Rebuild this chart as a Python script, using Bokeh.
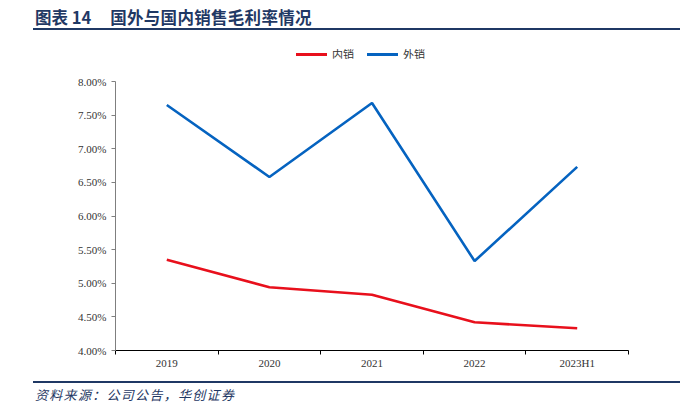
from bokeh.plotting import figure
from bokeh.models import FixedTicker, Range1d, Div, ColumnDataSource
from bokeh.layouts import column
from bokeh.embed import file_html
from bokeh.resources import INLINE

# Data
categories = ["2019", "2020", "2021", "2022", "2023H1"]
domestic = [5.35, 4.94, 4.83, 4.42, 4.33]   # 内销 (%)
foreign = [7.65, 6.58, 7.68, 5.33, 6.73]    # 外销 (%)
y_ticks = [4.0, 4.5, 5.0, 5.5, 6.0, 6.5, 7.0, 7.5, 8.0]
y_tick_labels = ["4.00%", "4.50%", "5.00%", "5.50%", "6.00%", "6.50%", "7.00%", "7.50%", "8.00%"]
series_names = ["内销", "外销"]
title_label = "图表 14"
title_main = "国外与国内销售毛利率情况"
source_text = "资料来源：公司公告，华创证券"

NAVY = "#1F3864"
RED = "#E8101C"
BLUE = "#0563C0"

xs = [i + 0.5 for i in range(len(categories))]
src = ColumnDataSource(dict(x=xs, dom=domestic, fgn=foreign))

p = figure(width=672, height=323, output_backend="svg", toolbar_location=None,
           x_range=Range1d(0, len(categories)), y_range=Range1d(4.0, 8.0),
           min_border_left=107, min_border_right=52, min_border_top=23, min_border_bottom=31)
p.margin = 0
p.outline_line_color = None
p.grid.grid_line_color = None
p.background_fill_color = "white"

p.line("x", "dom", source=src, line_color=RED, line_width=2.6)
p.line("x", "fgn", source=src, line_color=BLUE, line_width=2.6)

# x axis
p.xaxis.ticker = FixedTicker(ticks=xs, minor_ticks=list(range(len(categories) + 1)))
p.xaxis.major_label_overrides = {x: c for x, c in zip(xs, categories)}
p.xaxis.major_tick_line_color = None
p.xaxis.major_tick_out = 4
p.xaxis.major_tick_in = 0
p.xaxis.minor_tick_line_color = "black"
p.xaxis.minor_tick_out = 4
p.xaxis.minor_tick_in = 0
p.xaxis.axis_line_color = "black"
p.xaxis.axis_line_width = 1
p.xaxis.major_label_standoff = 2
p.xaxis.major_label_text_font = "Liberation Serif"
p.xaxis.major_label_text_font_size = "11px"
p.xaxis.major_label_text_color = "#333333"

# y axis
p.yaxis.ticker = FixedTicker(ticks=y_ticks)
p.yaxis.major_label_overrides = {t: l for t, l in zip(y_ticks, y_tick_labels)}
p.yaxis.axis_line_color = "#7F7F7F"
p.yaxis.major_tick_line_color = "#7F7F7F"
p.yaxis.major_tick_out = 4
p.yaxis.major_tick_in = 0
p.yaxis.minor_tick_line_color = None
p.yaxis.major_label_standoff = 5
p.yaxis.major_label_text_font = "Liberation Serif"
p.yaxis.major_label_text_font_size = "11px"
p.yaxis.major_label_text_color = "#333333"

legend_html = (
    '<div style="margin-top:15px;padding-left:288px;height:14px;line-height:14px;white-space:nowrap;'
    'font-family:\'Noto Sans CJK SC\';font-size:11px;color:#333333;">'
    f'<span style="display:inline-block;width:31px;height:3px;background:{RED};vertical-align:middle;"></span>'
    f'<span style="display:inline-block;margin-left:5px;vertical-align:middle;">{series_names[0]}</span>'
    f'<span style="display:inline-block;width:31px;height:3px;background:{BLUE};vertical-align:middle;margin-left:13px;"></span>'
    f'<span style="display:inline-block;margin-left:5px;vertical-align:middle;">{series_names[1]}</span>'
    '</div>')

title_div = Div(width=672, height=50, margin=0, text=(
    f'<div style="margin-left:25px;width:647px;height:22px;border-bottom:2px solid {NAVY};'
    f'font-family:\'Noto Sans CJK SC\';font-weight:bold;font-size:16.5px;line-height:19px;'
    f'color:{NAVY};padding-left:2px;box-sizing:border-box;white-space:nowrap;">'
    f'<span>{title_label}</span><span style="margin-left:19px;letter-spacing:0.3px;">{title_main}</span></div>'
    + legend_html))

source_div = Div(width=672, height=21, margin=0, text=(
    f'<div style="margin-left:25px;width:647px;border-top:2px solid {NAVY};padding-top:4px;'
    f'font-family:\'Noto Sans CJK SC\';font-style:italic;font-size:13px;line-height:15px;'
    f'letter-spacing:1.3px;color:{NAVY};padding-left:2px;box-sizing:border-box;white-space:nowrap;">{source_text}</div>'))

layout = column(title_div, p, source_div, spacing=0, margin=(8, 8, 8, 8))

open("out.html", "w").write(file_html(layout, INLINE))
